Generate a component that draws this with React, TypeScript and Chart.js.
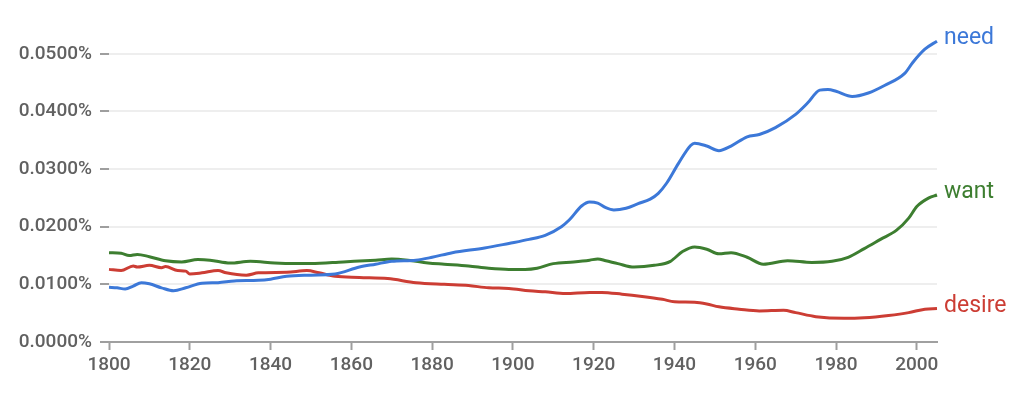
import React, { useEffect, useRef } from "react";
import { Chart, registerables } from "chart.js";

Chart.register(...registerables);

const needYears = [1800, 1802, 1804, 1806, 1808, 1810, 1813, 1816, 1819, 1823, 1827, 1831, 1837, 1840, 1844, 1850, 1856, 1862, 1866, 1870, 1876, 1880, 1885, 1893, 1899, 1904, 1908, 1912, 1914, 1917, 1919, 1921, 1923, 1925, 1928, 1931, 1934, 1936, 1938, 1941, 1944, 1945, 1948, 1951, 1954, 1958, 1961, 1965, 1970, 1973, 1976, 1978, 1980, 1984, 1988, 1992, 1997, 1999, 2002, 2005];
const needValues = [0.0095, 0.0094, 0.0092, 0.0097, 0.0103, 0.0101, 0.0094, 0.0089, 0.0094, 0.0102, 0.0103, 0.0106, 0.0107, 0.0109, 0.0114, 0.0116, 0.0118, 0.013, 0.0135, 0.014, 0.0142, 0.0147, 0.0155, 0.0163, 0.0171, 0.0178, 0.0185, 0.02, 0.0212, 0.0236, 0.0243, 0.0241, 0.0233, 0.0229, 0.0232, 0.024, 0.0248, 0.0258, 0.0275, 0.031, 0.0341, 0.0345, 0.034, 0.0332, 0.034, 0.0356, 0.036, 0.0372, 0.0395, 0.0415, 0.0437, 0.0438, 0.0435, 0.0426, 0.0432, 0.0445, 0.0466, 0.0485, 0.0508, 0.0522];

const wantYears = [1800, 1803, 1805, 1807, 1810, 1814, 1818, 1822, 1825, 1830, 1835, 1841, 1846, 1850, 1858, 1866, 1870, 1874, 1879, 1883, 1889, 1894, 1899, 1903, 1906, 1910, 1915, 1919, 1921, 1923, 1926, 1930, 1935, 1939, 1942, 1945, 1948, 1951, 1954, 1958, 1962, 1968, 1974, 1979, 1983, 1987, 1991, 1995, 1998, 2000, 2003, 2005];
const wantValues = [0.0155, 0.0154, 0.015, 0.0152, 0.0148, 0.0141, 0.0139, 0.0143, 0.0142, 0.0137, 0.014, 0.0137, 0.0136, 0.0136, 0.0139, 0.0142, 0.0144, 0.0142, 0.0137, 0.0135, 0.0132, 0.0128, 0.0126, 0.0126, 0.0128, 0.0136, 0.0139, 0.0142, 0.0144, 0.0141, 0.0136, 0.013, 0.0133, 0.014, 0.0157, 0.0165, 0.0161, 0.0153, 0.0155, 0.0147, 0.0135, 0.0141, 0.0138, 0.014, 0.0147, 0.0162, 0.0178, 0.0194, 0.0215, 0.0235, 0.025, 0.0255];

const desireYears = [1800, 1803, 1806, 1807, 1810, 1813, 1814, 1817, 1819, 1820, 1823, 1827, 1829, 1834, 1837, 1844, 1849, 1852, 1856, 1862, 1869, 1876, 1883, 1889, 1894, 1899, 1904, 1908, 1913, 1919, 1922, 1927, 1932, 1937, 1940, 1945, 1948, 1951, 1956, 1961, 1967, 1970, 1975, 1982, 1987, 1993, 1998, 2002, 2005];
const desireValues = [0.0126, 0.0124, 0.0132, 0.013, 0.0133, 0.0129, 0.0131, 0.0124, 0.0123, 0.0118, 0.012, 0.0124, 0.012, 0.0116, 0.012, 0.0121, 0.0124, 0.012, 0.0114, 0.0112, 0.011, 0.0103, 0.01, 0.0098, 0.0094, 0.0093, 0.0089, 0.0087, 0.0084, 0.0086, 0.0086, 0.0083, 0.0079, 0.0074, 0.007, 0.0069, 0.0066, 0.0061, 0.0057, 0.0054, 0.0055, 0.0051, 0.0044, 0.0041, 0.0042, 0.0046, 0.0051, 0.0057, 0.0058];

const seriesNames = ["need", "want", "desire"];
const seriesColors = ["#3c78d8", "#3d7e30", "#cc3d34"];
const xTicks = [1800, 1820, 1840, 1860, 1880, 1900, 1920, 1940, 1960, 1980, 2000];
const yTicks = [0, 0.01, 0.02, 0.03, 0.04, 0.05];

const toPoints = (xs: number[], ys: number[]) => xs.map((x, i) => ({ x, y: ys[i] }));

const endLabels = {
  id: "endLabels",
  afterDatasetsDraw(chart: any) {
    const ctx = chart.ctx;
    ctx.save();
    ctx.font = "23px Roboto";
    ctx.textAlign = "left";
    ctx.textBaseline = "alphabetic";
    chart.data.datasets.forEach((ds: any, i: number) => {
      const meta = chart.getDatasetMeta(i);
      const last = meta.data[meta.data.length - 1];
      if (!last) return;
      ctx.fillStyle = ds.borderColor;
      ctx.fillText(ds.label, last.x + 7, last.y + 3);
    });
    ctx.restore();
  },
};

export default function App() {
  const ref = useRef<HTMLCanvasElement>(null);
  useEffect(() => {
    document.body.style.margin = "0";
    const data = [
      toPoints(needYears, needValues),
      toPoints(wantYears, wantValues),
      toPoints(desireYears, desireValues),
    ];
    const chart = new Chart(ref.current as HTMLCanvasElement, {
      type: "line",
      data: {
        datasets: seriesNames.map((name, i) => ({
          label: name,
          data: data[i],
          borderColor: seriesColors[i],
          backgroundColor: seriesColors[i],
          borderWidth: 3,
          pointRadius: 0,
          tension: 0.4,
          cubicInterpolationMode: "monotone" as const,
          clip: false as any,
        })),
      },
      options: {
        animation: false,
        responsive: false,
        maintainAspectRatio: false,
        layout: { padding: { left: 0, right: 87, top: 25, bottom: 0 } },
        plugins: { legend: { display: false }, tooltip: { enabled: false } },
        scales: {
          x: {
            type: "linear",
            min: 1800,
            max: 2005,
            afterBuildTicks: (scale: any) => {
              scale.ticks = xTicks.map((v) => ({ value: v }));
            },
            afterFit: (scale: any) => {
              scale.height = 52;
            },
            grid: {
              drawOnChartArea: false,
              drawTicks: true,
              tickLength: 8,
              tickColor: "#9e9e9e",
              tickWidth: 2,
            },
            border: { display: true, color: "#a0a0a0", width: 2 },
            ticks: {
              font: { family: "Roboto", size: 19, weight: "500" },
              color: "#616161",
              padding: 4,
              maxRotation: 0,
              callback: (v: any) => String(v),
            },
          },
          y: {
            type: "linear",
            min: 0,
            max: 0.055,
            afterBuildTicks: (scale: any) => {
              scale.ticks = yTicks.map((v) => ({ value: v }));
            },
            afterFit: (scale: any) => {
              scale.width = 109;
            },
            grid: {
              color: "#eeeeee",
              lineWidth: 2,
              drawTicks: true,
              tickLength: 9,
              tickColor: "#9e9e9e",
              tickWidth: 2,
            },
            border: { display: false },
            ticks: {
              font: { family: "Roboto", size: 19, weight: "500" },
              color: "#616161",
              padding: 8,
              callback: (v: any) => Number(v).toFixed(4) + "%",
            },
          },
        },
      },
      plugins: [endLabels],
    } as any);
    return () => chart.destroy();
  }, []);
  return (
    <div style={{ width: 1024, height: 394 }}>
      <canvas ref={ref} width={1024} height={394} style={{ display: "block" }} />
    </div>
  );
}
